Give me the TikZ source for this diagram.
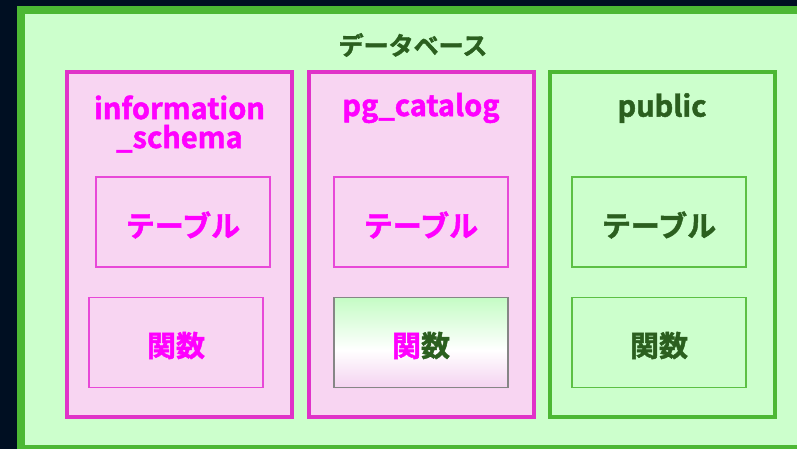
\documentclass[tikz,border=0pt]{standalone}
\usepackage{fontspec}
\setmainfont{Noto Sans CJK JP}[BoldFont={* Bold}]
\newfontfamily\jpb{Noto Sans CJK JP Bold}[FakeBold=1.6]
\definecolor{bgnavy}{HTML}{000F22}
\definecolor{outgreen}{HTML}{4CB834}
\definecolor{lightgreen}{HTML}{CCFFCC}
\definecolor{gradgreen}{HTML}{C4FCC4}
\definecolor{gradpink}{HTML}{F4D2F0}
\definecolor{mag}{HTML}{E033C8}
\definecolor{magfill}{HTML}{F8D5F2}
\definecolor{magtext}{HTML}{FF00FF}
\definecolor{dkgreen}{HTML}{2B5F1F}
\definecolor{magthin}{HTML}{E848D8}
\definecolor{greenthin}{HTML}{5CC044}
\definecolor{graythin}{HTML}{868686}
\tikzset{
  schemabox/.style={draw=#1, line width=4pt, minimum width=225pt, minimum height=345pt, inner sep=0pt},
  innerbox/.style={draw=#1, line width=1.2pt, minimum width=174pt, minimum height=90pt, inner sep=0pt},
  jptext/.style={font=\jpb\fontsize{29}{31}\selectfont, text=#1, inner sep=0pt},
  lattext/.style={font=\jpb\fontsize{29}{31}\selectfont, text=#1, inner sep=0pt, align=center},
}
\begin{document}
\begin{tikzpicture}[x=1pt,y=-1pt]
\useasboundingbox (0,0) rectangle (797,449);
\fill[bgnavy] (0,0) rectangle (797,449);
\clip (0,0) rectangle (797,449);
\node[draw=outgreen, fill=lightgreen, line width=8pt, outer sep=0pt, minimum width=800pt, minimum height=438pt, anchor=north west, inner sep=0pt] (db) at (21,10.5) {};
\node[font=\jpb\fontsize{25}{27}\selectfont, text=dkgreen, inner sep=0pt] (dbt) at (413,45) {データベース};
% schemas
\node[schemabox=mag, fill=magfill] (s1) at (179.5,244.5) {};
\node[schemabox=mag, fill=magfill] (s2) at (421,244.5) {};
\node[schemabox=outgreen, fill=lightgreen] (s3) at (662.5,244.5) {};
\node[lattext=magtext] (s1t) at (179.5,124) {information\\[-2pt]\_schema};
\node[lattext=magtext] (s2t) at (421,108) {pg\_catalog};
\node[lattext=dkgreen] (s3t) at (662,108) {public};
% inner boxes
\node[innerbox=magthin] (t1) at (183,222) {};
\node[jptext=magtext] (t1t) at ([yshift=-3pt]t1.center) {テーブル};
\node[innerbox=magthin] (f1) at (176,342.5) {};
\node[jptext=magtext] (f1t) at ([yshift=-3pt]f1.center) {関数};
\node[innerbox=magthin] (t2) at (421,222) {};
\node[jptext=magtext] (t2t) at ([yshift=-3pt]t2.center) {テーブル};
\shade[top color=gradgreen, bottom color=white] (334,297) rectangle (508,350);
\shade[top color=white, bottom color=gradpink] (334,350) rectangle (508,388);
\node[innerbox=graythin] (f2) at (421,342.5) {};
\node[jptext=magtext] (f2t) at ([yshift=-3pt]f2.center) {関{\color{dkgreen}数}};
\node[innerbox=greenthin] (t3) at (659,222) {};
\node[jptext=dkgreen] (t3t) at ([yshift=-3pt]t3.center) {テーブル};
\node[innerbox=greenthin] (f3) at (659,342.5) {};
\node[jptext=dkgreen] (f3t) at ([yshift=-3pt]f3.center) {関数};
\end{tikzpicture}
\end{document}
